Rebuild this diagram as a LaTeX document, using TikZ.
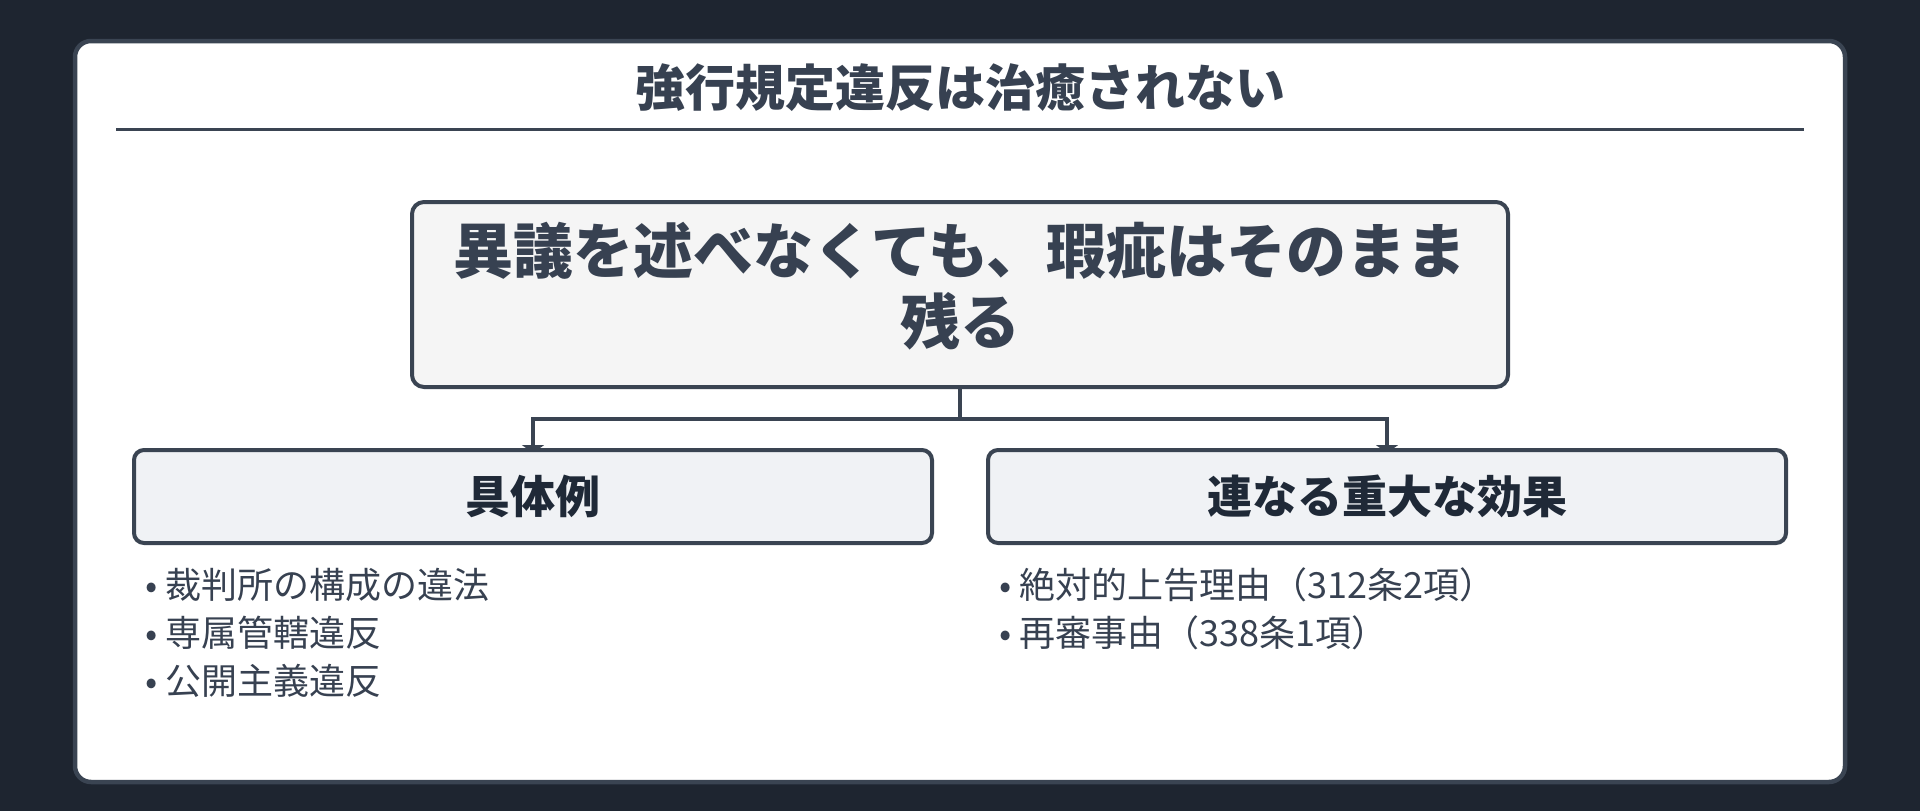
\documentclass[tikz,border=0pt]{standalone}
\usepackage{fontspec}
\setmainfont{Noto Sans CJK JP}
\usetikzlibrary{arrows.meta}

\definecolor{pagebg}{HTML}{1E2530}
\definecolor{frame}{HTML}{3A4452}
\definecolor{ink}{HTML}{374151}
\definecolor{inkdark}{HTML}{1F2937}
\definecolor{mainfill}{HTML}{F5F5F5}
\definecolor{headfill}{HTML}{F0F2F5}

\pgfdeclarelayer{back}
\pgfdeclarelayer{wires}
\pgfsetlayers{back,wires,main}

\tikzset{
  title/.style={inner sep=0pt, text=ink, font=\bfseries\fontsize{50}{60}\selectfont},
  mainbox/.style={draw=frame, line width=4pt, fill=mainfill, rounded corners=12pt,
    minimum width=1096pt, minimum height=185pt, inner sep=0pt},
  maintext/.style={inner sep=0pt, align=center, text=ink, font=\bfseries\fontsize{60}{71}\selectfont},
  headbox/.style={draw=frame, line width=4pt, fill=headfill, rounded corners=10pt,
    minimum width=798pt, minimum height=93pt, inner sep=0pt, text=inkdark,
    font=\bfseries\fontsize{45}{54}\selectfont},
  item/.style={anchor=west, inner sep=0pt, text=ink, font=\fontsize{36}{48}\selectfont},
  link/.style={draw=frame, line width=4pt, -{Triangle[length=8pt,width=22pt]}, shorten >=-5pt},
}

\begin{document}
\begin{tikzpicture}[x=1pt,y=-1pt]
  \useasboundingbox (0,0) rectangle (1920,811);
  \begin{pgfonlayer}{back}
    \fill[pagebg] (0,0) rectangle (1920,811);
    \draw[frame, line width=4.5pt, fill=white, rounded corners=16pt] (75,41) rectangle (1845,782);
  \end{pgfonlayer}

  % heading
  \node[title] (title) at (960,88) {強行規定違反は治癒されない};
  \draw[frame, line width=3pt] (116,129) -- (1804,129);

  % central statement
  \node[mainbox] (rule) at (960,294.5) {};
  \node[maintext] (rule-text) at (960,286.5) {異議を述べなくても、瑕疵はそのまま\\残る};

  % two branches
  \node[headbox] (examples) at (533,496.5) {具体例};
  \node[headbox] (effects) at (1387,496.5) {連なる重大な効果};

  \coordinate (fork) at (960,419);
  \begin{pgfonlayer}{wires}
    \draw[link] (rule.south) -- (fork) -| (examples.north);
    \draw[link] (rule.south) -- (fork) -| (effects.north);
  \end{pgfonlayer}

  % bullet lists
  \node[item] (ex1) at (145,585) {• 裁判所の構成の違法};
  \node[item] (ex2) at (145,633) {• 専属管轄違反};
  \node[item] (ex3) at (145,681) {• 公開主義違反};

  \node[item] (ef1) at (999,585) {• 絶対的上告理由（312条2項）};
  \node[item] (ef2) at (999,633) {• 再審事由（338条1項）};
\end{tikzpicture}
\end{document}
